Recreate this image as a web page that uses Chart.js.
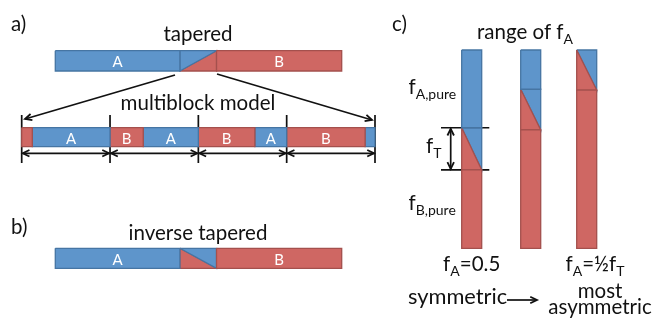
<!DOCTYPE html>
<html><head><meta charset="utf-8">
<style>html,body{margin:0;padding:0;background:#fff;}canvas{display:block;}</style>
<script src="https://cdn.jsdelivr.net/npm/chart.js@4/dist/chart.umd.min.js"></script>
</head><body>
<canvas id="c" width="656" height="323"></canvas>
<script>
// ---------- data (volume fractions) ----------
const taperedFractions = [0.435, 0.128, 0.437];          // A pure, taper, B pure
const inverseFractions = [0.435, 0.128, 0.437];          // A pure, inverse taper, B pure
const multiblockTypes = ['B','A','B','A','B','A','B','A'];
const multiblockFractions = [0.030, 0.220, 0.094, 0.156, 0.160, 0.090, 0.222, 0.028];
const multiblockPeriods = [0, 0.25, 0.5, 0.75, 1.0];
const columnPureA = [0.392, 0.198, 0.0];                 // f_A,pure per column
const columnTaper = [0.213, 0.205, 0.202];               // f_T per column

// ---------- layout ----------
const FONT = 'Lato, "Noto Sans", sans-serif';
const BLUE = '#5E95CB', BLUE_E = '#4675A3';
const RED = '#CF6763', RED_E = '#A4504D';
const INK = '#111';
const barT = {x0:55.3, x1:341.7, y0:50.7, y1:71};
const barI = {x0:55.3, x1:341.7, y0:248.3, y1:268.3};
const barM = {x0:21.7, x1:375, y0:127.7, y1:146.7};
const colX = [461.7, 520.7, 576.7], colW = 20, colY0 = 50, colY1 = 248.3;

const datasets = [];
function P(x,y){return {x, y};}
function poly(pts, fill, edge, w){
  const d = pts.map(p=>P(p[0],p[1])); d.push(P(pts[0][0],pts[0][1]));
  datasets.push({data:d, showLine:true, fill:'shape', backgroundColor:fill, borderColor:edge,
    borderWidth:w||1.3, pointRadius:0, tension:0, clip:false, borderJoinStyle:'miter'});
}
function line(pts, w){
  datasets.push({data:pts.map(p=>P(p[0],p[1])), showLine:true, fill:false, borderColor:INK,
    borderWidth:w||1.7, pointRadius:0, tension:0, clip:false});
}
function head(tip, from, len){
  len = len||7.5;
  const dx = tip[0]-from[0], dy = tip[1]-from[1], L = Math.hypot(dx,dy);
  const ux = dx/L, uy = dy/L, a = 0.45;
  const c = Math.cos(a), s = Math.sin(a);
  const p1 = [tip[0]-len*(ux*c-uy*s), tip[1]-len*(uy*c+ux*s)];
  const p2 = [tip[0]-len*(ux*c+uy*s), tip[1]-len*(uy*c-ux*s)];
  line([p1, tip, p2], 1.8);
}
function arrow(a, b, both){ line([a,b]); head(b,a); if(both) head(a,b); }
function rect(x0,y0,x1,y1,fill,edge){ poly([[x0,y0],[x1,y0],[x1,y1],[x0,y1]],fill,edge); }

// horizontal tapered / inverse tapered bars
function hbar(bar, fr, inverse){
  const L = bar.x1-bar.x0, a = bar.x0+fr[0]*L, b = a+fr[1]*L;
  rect(bar.x0,bar.y0,a,bar.y1,BLUE,BLUE_E);
  rect(b,bar.y0,bar.x1,bar.y1,RED,RED_E);
  if(!inverse){
    poly([[a,bar.y0],[b,bar.y0],[a,bar.y1]],BLUE,BLUE_E);
    poly([[a,bar.y1],[b,bar.y0],[b,bar.y1]],RED,RED_E);
  } else {
    poly([[a,bar.y0],[b,bar.y0],[b,bar.y1]],BLUE,BLUE_E);
    poly([[a,bar.y0],[b,bar.y1],[a,bar.y1]],RED,RED_E);
  }
  return [(bar.x0+a)/2, (b+bar.x1)/2];
}
const tLab = hbar(barT, taperedFractions, false);
const iLab = hbar(barI, inverseFractions, true);

// multiblock bar
const mLen = barM.x1-barM.x0; let cx = barM.x0; const mLab = [];
multiblockFractions.forEach((f,i)=>{
  const nx = cx+f*mLen, A = multiblockTypes[i]==='A';
  rect(cx,barM.y0,nx,barM.y1,A?BLUE:RED,A?BLUE_E:RED_E);
  if(f>0.05) mLab.push([multiblockTypes[i],(cx+nx)/2]);
  cx = nx;
});
const divX = multiblockPeriods.map(p=>barM.x0+p*mLen);
divX.forEach(x=>line([[x,115],[x,163]],1.7));
for(let i=0;i<divX.length-1;i++) arrow([divX[i]+1,153.3],[divX[i+1]-1,153.3],true);
arrow([175,75],[25,119]);
arrow([217,74],[372,120]);

// columns
const colH = colY1-colY0;
colX.forEach((x0,i)=>{
  const x1 = x0+colW, a = colY0+columnPureA[i]*colH, b = a+columnTaper[i]*colH;
  if(columnPureA[i]>0) rect(x0,colY0,x1,a,BLUE,BLUE_E);
  rect(x0,b,x1,colY1,RED,RED_E);
  poly([[x0,a],[x0,b],[x1,b]],RED,RED_E);
  poly([[x0,a],[x1,a],[x1,b]],BLUE,BLUE_E);
});
const ca = colY0+columnPureA[0]*colH, cb = ca+columnTaper[0]*colH;
line([[441,ca],[489.3,ca]],1.7);
line([[441,cb],[489.3,cb]],1.7);
arrow([450.7,ca+1],[450.7,cb-1],true);
arrow([507,300],[537,300]);

// ---------- texts (y = baseline) ----------
const S = 20.5, SB = 15;
const texts = [
  {x:11,y:30.5,s:S,al:'left',parts:[['a)']]},
  {x:11,y:233.5,s:S,al:'left',parts:[['b)']]},
  {x:392,y:30.5,s:S,al:'left',parts:[['c)']]},
  {x:198,y:40.7,s:S,parts:[['tapered']]},
  {x:198,y:110,s:S,parts:[['multiblock model']]},
  {x:198,y:239.5,s:S,parts:[['inverse tapered']]},
  {x:tLab[0],y:66.5,s:SB,c:'#fff',parts:[['A']]},
  {x:tLab[1],y:66.5,s:SB,c:'#fff',parts:[['B']]},
  {x:iLab[0],y:264.5,s:SB,c:'#fff',parts:[['A']]},
  {x:iLab[1],y:264.5,s:SB,c:'#fff',parts:[['B']]},
  ...mLab.map(m=>({x:m[1],y:143.5,s:SB,c:'#fff',parts:[[m[0]]]})),
  {x:525,y:39,s:S,parts:[['range of f'],['A',1]]},
  {x:408.5,y:94,s:S,al:'left',parts:[['f'],['A,pure',1]]},
  {x:426,y:153.3,s:S,al:'left',parts:[['f'],['T',1]]},
  {x:408.5,y:210,s:S,al:'left',parts:[['f'],['B,pure',1]]},
  {x:471.7,y:271,s:S,parts:[['f'],['A',1],['=0.5']]},
  {x:595,y:271,s:S,parts:[['f'],['A',1],['=½f'],['T',1]]},
  {x:408,y:304,s:21.8,al:'left',parts:[['symmetric']]},
  {x:600,y:298.3,s:S,parts:[['most']]},
  {x:600,y:314.3,s:S,parts:[['asymmetric']]},
];
const textPlugin = {id:'texts', afterDatasetsDraw(chart){
  const ctx = chart.ctx, X = chart.scales.x, Y = chart.scales.y;
  ctx.save(); ctx.textBaseline='alphabetic';
  texts.forEach(t=>{
    const sub = Math.round(t.s*0.68);
    const w = t.parts.reduce((acc,p)=>{ctx.font=(p[1]?sub:t.s)+'px '+FONT; return acc+ctx.measureText(p[0]).width;},0);
    let x = X.getPixelForValue(t.x); const y = Y.getPixelForValue(t.y);
    if(t.al!=='left') x -= w/2;
    ctx.fillStyle = t.c||INK; ctx.textAlign='left';
    t.parts.forEach(p=>{
      ctx.font=(p[1]?sub:t.s)+'px '+FONT;
      ctx.fillText(p[0], x, p[1]? y+t.s*0.22 : y);
      x += ctx.measureText(p[0]).width;
    });
  });
  ctx.restore();
}};

new Chart(document.getElementById('c'), {
  type:'scatter',
  data:{datasets},
  options:{responsive:false, animation:false, devicePixelRatio:1, events:[],
    layout:{padding:0},
    plugins:{legend:{display:false}, tooltip:{enabled:false}},
    scales:{x:{type:'linear',min:0,max:656,display:false},
            y:{type:'linear',min:0,max:323,reverse:true,display:false}}},
  plugins:[textPlugin]
});
</script>
</body></html>
